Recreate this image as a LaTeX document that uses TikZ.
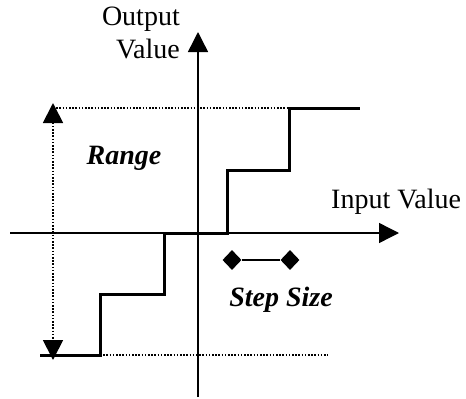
\documentclass[tikz,border=0pt]{standalone}
\usepackage{fontspec}
\setmainfont{Liberation Serif}
\usetikzlibrary{arrows.meta,shapes.geometric,positioning}

\begin{document}
\begin{tikzpicture}[x=1pt,y=-1pt,line cap=butt,line join=miter,
    axis/.style={line width=1.4pt,-{Triangle[length=20pt,width=20pt]}},
    stair/.style={line width=3pt},
    guide/.style={line width=1.8pt,dash pattern=on 1.6pt off 1.6pt},
    tip/.style={diamond,fill=black,inner sep=0pt,minimum width=19pt,minimum height=20pt},
    lbl/.style={font=\fontsize{28}{33}\selectfont,inner sep=0pt}]
  \useasboundingbox (0,0) rectangle (466,399);
  % axes
  \coordinate (xL) at (10,233);\coordinate (xR) at (399,233);
  \coordinate (yB) at (198,397);\coordinate (yT) at (198,32);
  \draw[axis] (xL)--(xR);
  \draw[axis] (yB)--(yT);
  \node[lbl,align=right,anchor=east] (outlbl) at (180,33) {Output\\Value};
  \node[lbl,anchor=west] (inlbl) at (331,202) {Input Value};
  % staircase
  \draw[stair] (40,355)--(100,355)--(100,294)--(164,294)--(164,233)--(227,233)
    --(227,170)--(289,170)--(289,108)--(360,108);
  % range
  \coordinate (rT) at (53,108);\coordinate (rB) at (53,355);
  \draw[guide] (rT)--(289,108);
  \draw[guide] (100,355)--(328,355);
  \draw[guide,{Triangle[length=20pt,width=20pt]}-{Triangle[length=20pt,width=20pt]},shorten <=-5pt,shorten >=-5pt] (rT)--(rB);
  \node[lbl,font=\fontsize{28}{33}\selectfont\bfseries\itshape] (range) at (124,158) {Range};
  % step size
  \node[tip] (ssL) at (232,260) {};
  \node[tip] (ssR) at (290,260) {};
  \draw[line width=1.5pt] (ssL)--(ssR);
  \node[lbl,font=\fontsize{28}{33}\selectfont\bfseries\itshape] (step) at (281,300) {Step Size};
\end{tikzpicture}
\end{document}
